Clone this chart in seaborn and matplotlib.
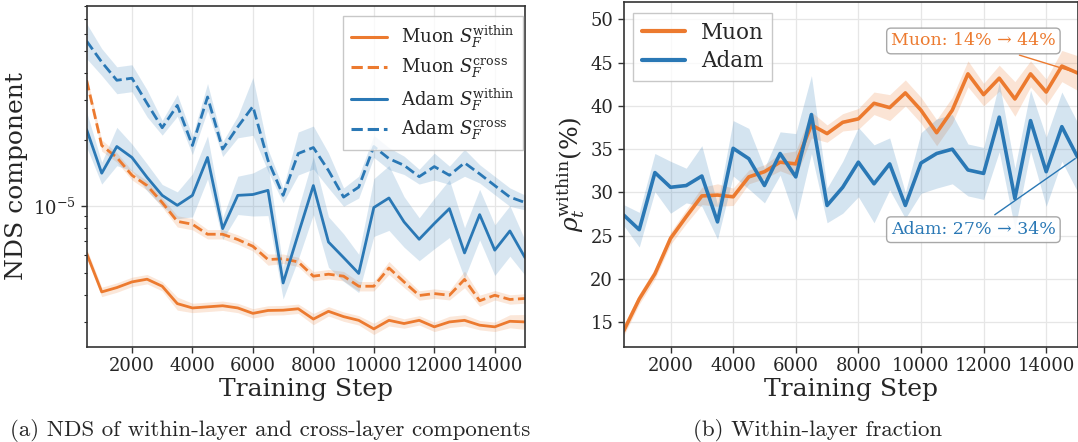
import numpy as np
import pandas as pd
import matplotlib
matplotlib.use("Agg")
import matplotlib.pyplot as plt
from matplotlib.ticker import NullFormatter
import seaborn as sns

# ---------------- data ----------------
steps = list(range(500, 15001, 500))

muon_within = [6.14e-6, 4.11e-6, 4.30e-6, 4.56e-6, 4.69e-6, 4.36e-6, 3.64e-6, 3.48e-6, 3.52e-6, 3.56e-6,
               3.48e-6, 3.29e-6, 3.39e-6, 3.40e-6, 3.45e-6, 3.10e-6, 3.36e-6, 3.18e-6, 3.06e-6, 2.80e-6,
               3.06e-6, 2.96e-6, 3.06e-6, 2.86e-6, 3.01e-6, 3.06e-6, 2.91e-6, 2.86e-6, 3.03e-6, 3.01e-6]
muon_cross = [3.70e-5, 1.88e-5, 1.66e-5, 1.38e-5, 1.24e-5, 1.04e-5, 8.55e-6, 8.30e-6, 7.48e-6, 7.48e-6,
              7.08e-6, 6.60e-6, 5.75e-6, 5.80e-6, 5.61e-6, 4.84e-6, 4.94e-6, 4.84e-6, 4.36e-6, 4.36e-6,
              5.27e-6, 4.56e-6, 3.96e-6, 4.04e-6, 3.97e-6, 4.68e-6, 3.75e-6, 3.97e-6, 3.80e-6, 3.84e-6]
adam_within = [2.22e-5, 1.41e-5, 1.86e-5, 1.66e-5, 1.35e-5, 1.12e-5, 1.01e-5, 1.12e-5, 1.66e-5, 7.93e-6,
               1.12e-5, 1.13e-5, 1.18e-5, 4.51e-6, 7.50e-6, 1.24e-5, 6.90e-6, 5.87e-6, 4.98e-6, 9.87e-6,
               1.09e-5, 8.50e-6, 7.10e-6, 8.36e-6, 9.76e-6, 6.16e-6, 9.17e-6, 6.34e-6, 7.74e-6, 5.87e-6]
adam_cross = [5.56e-5, 4.47e-5, 3.70e-5, 3.78e-5, 2.91e-5, 2.26e-5, 2.85e-5, 1.88e-5, 3.11e-5, 1.81e-5,
              2.28e-5, 2.82e-5, 1.61e-5, 1.12e-5, 1.73e-5, 1.84e-5, 1.45e-5, 1.10e-5, 1.22e-5, 1.86e-5,
              1.64e-5, 1.53e-5, 1.36e-5, 1.51e-5, 1.38e-5, 1.57e-5, 1.40e-5, 1.24e-5, 1.10e-5, 1.04e-5]

# relative band half-widths (factor) for panel (a)
muon_within_err = [0.05, 0.05, 0.05, 0.05, 0.05, 0.05, 0.07, 0.05, 0.05, 0.05,
                   0.05, 0.05, 0.05, 0.05, 0.05, 0.06, 0.05, 0.05, 0.05, 0.06,
                   0.06, 0.05, 0.05, 0.05, 0.06, 0.06, 0.05, 0.05, 0.07, 0.08]
muon_cross_err = [0.05, 0.06, 0.05, 0.05, 0.05, 0.05, 0.06, 0.06, 0.05, 0.05,
                  0.05, 0.05, 0.06, 0.05, 0.05, 0.05, 0.05, 0.05, 0.05, 0.05,
                  0.07, 0.06, 0.05, 0.05, 0.05, 0.09, 0.06, 0.05, 0.05, 0.05]
adam_within_err = [0.20, 0.12, 0.22, 0.15, 0.15, 0.12, 0.15, 0.25, 0.25, 0.12,
                   0.22, 0.25, 0.30, 0.18, 0.30, 0.35, 0.30, 0.28, 0.22, 0.35,
                   0.40, 0.30, 0.25, 0.30, 0.35, 0.30, 0.30, 0.30, 0.30, 0.20]
adam_cross_err = [0.20, 0.15, 0.15, 0.15, 0.15, 0.08, 0.12, 0.10, 0.15, 0.08,
                  0.12, 0.35, 0.12, 0.08, 0.25, 0.25, 0.20, 0.10, 0.12, 0.12,
                  0.12, 0.10, 0.08, 0.15, 0.10, 0.15, 0.10, 0.10, 0.10, 0.08]

# panel (b): within-layer fraction (%)
muon_frac = [14.0, 17.7, 20.6, 24.7, 27.2, 29.6, 29.7, 29.5, 31.8, 32.4,
             33.5, 33.3, 37.8, 36.8, 38.1, 38.5, 40.3, 39.8, 41.5, 39.5,
             36.9, 39.5, 43.7, 41.3, 43.2, 40.8, 43.7, 41.6, 44.6, 43.8]
adam_frac = [27.4, 25.7, 32.3, 30.6, 30.8, 31.9, 26.6, 35.1, 33.9, 30.8,
             34.5, 31.8, 39.0, 28.5, 30.6, 33.5, 31.0, 33.3, 28.5, 33.4,
             34.5, 35.0, 32.6, 32.2, 38.7, 29.3, 38.3, 32.4, 37.6, 34.1]
muon_frac_err = [0.6, 0.6, 0.6, 0.7, 0.8, 1.0, 1.3, 1.0, 0.8, 0.8,
                 1.0, 1.5, 1.5, 1.0, 1.0, 1.2, 1.3, 1.5, 1.5, 1.5,
                 1.5, 1.5, 1.5, 1.3, 1.5, 2.0, 1.5, 1.5, 1.8, 2.0]
adam_frac_err = [1.2, 2.0, 2.2, 3.0, 2.0, 3.5, 2.0, 3.2, 3.5, 2.0,
                 2.5, 5.0, 4.5, 2.0, 3.0, 4.0, 4.5, 3.0, 1.5, 3.5,
                 4.0, 4.0, 3.0, 3.0, 4.0, 3.5, 3.5, 4.0, 4.0, 4.0]

ORANGE = "#ec7a2f"
BLUE = "#2a78b5"

# ---------------- style ----------------
sns.set_theme(style="ticks", rc={"axes.grid": True, "grid.color": "#e6e6e6", "grid.linewidth": 0.9,
                                 "axes.edgecolor": "#333333", "axes.linewidth": 1.2})
plt.rcParams["font.family"] = ["DejaVu Serif"]
plt.rcParams["mathtext.fontset"] = "dejavuserif"

fig = plt.figure(figsize=(10.78, 4.42), dpi=100)
W, H = 1078, 442
ax1 = fig.add_axes([86.6 / W, 95 / H, (525 - 86.6) / W, (347 - 6) / H])
ax2 = fig.add_axes([623.6 / W, 95 / H, (1077.5 - 623.6) / W, (347 - 2) / H])

# ---------------- panel (a) ----------------
order = ["Muon $S_F^{\\mathrm{within}}$", "Muon $S_F^{\\mathrm{cross}}$",
         "Adam $S_F^{\\mathrm{within}}$", "Adam $S_F^{\\mathrm{cross}}$"]
dfa = pd.DataFrame({
    "step": steps * 4,
    "value": muon_within + muon_cross + adam_within + adam_cross,
    "series": [order[0]] * 30 + [order[1]] * 30 + [order[2]] * 30 + [order[3]] * 30,
})
pal = {order[0]: ORANGE, order[1]: ORANGE, order[2]: BLUE, order[3]: BLUE}
dashes = {order[0]: "", order[1]: (3.7, 1.6), order[2]: "", order[3]: (3.7, 1.6)}
sns.lineplot(data=dfa, x="step", y="value", hue="series", style="series", hue_order=order,
             style_order=order, palette=pal, dashes=dashes, linewidth=2.0, ax=ax1)
for vals, errs, col in [(muon_within, muon_within_err, ORANGE), (muon_cross, muon_cross_err, ORANGE),
                        (adam_within, adam_within_err, BLUE), (adam_cross, adam_cross_err, BLUE)]:
    v = np.array(vals); e = np.array(errs)
    ax1.fill_between(steps, v / (1 + e), v * (1 + e), color=col, alpha=0.18, linewidth=0)

ax1.set_yscale("log")
ax1.set_xlim(500, 15000)
ax1.set_ylim(2.32e-6, 8.0e-5)
ax1.yaxis.set_minor_formatter(NullFormatter())
ax1.set_xticks([2000, 4000, 6000, 8000, 10000, 12000, 14000])
ax1.tick_params(axis="both", labelsize=13, direction="out", length=4, width=1, color="#333333")
ax1.tick_params(axis="y", which="minor", length=2.5, width=0.8, left=True)
ax1.set_xlabel("Training Step", fontsize=18, labelpad=2)
ax1.set_ylabel("NDS component", fontsize=18, labelpad=4)
ax1.grid(True, which="major")
ax1.grid(False, which="minor")
leg1 = ax1.legend(loc="upper right", fontsize=13, frameon=True, fancybox=False,
                  handlelength=2.0, handletextpad=0.8, borderpad=0.45, labelspacing=0.36,
                  edgecolor="#bbbbbb", bbox_to_anchor=(0.9954, 0.9707), borderaxespad=0)
leg1.get_frame().set_linewidth(1.0)
for h in leg1.get_lines():
    h.set_linewidth(2.2)

# ---------------- panel (b) ----------------
dfb = pd.DataFrame({
    "step": steps * 2,
    "frac": muon_frac + adam_frac,
    "opt": ["Muon"] * 30 + ["Adam"] * 30,
})
sns.lineplot(data=dfb, x="step", y="frac", hue="opt", hue_order=["Muon", "Adam"],
             palette={"Muon": ORANGE, "Adam": BLUE}, linewidth=2.6, ax=ax2)
for vals, errs, col in [(muon_frac, muon_frac_err, ORANGE), (adam_frac, adam_frac_err, BLUE)]:
    v = np.array(vals); e = np.array(errs)
    ax2.fill_between(steps, v - e, v + e, color=col, alpha=0.2, linewidth=0)

ax2.set_xlim(500, 15000)
ax2.set_ylim(12.15, 52.0)
ax2.set_xticks([2000, 4000, 6000, 8000, 10000, 12000, 14000])
ax2.set_yticks([15, 20, 25, 30, 35, 40, 45, 50])
ax2.tick_params(axis="both", labelsize=13, direction="out", length=4, width=1, color="#333333")
ax2.set_xlabel("Training Step", fontsize=18, labelpad=2)
ax2.set_ylabel("$\\rho_t^{\\mathrm{within}}(\\%)$", fontsize=18, labelpad=2)
leg2 = ax2.legend(loc="upper left", fontsize=15.5, frameon=True, fancybox=False,
                  handlelength=2.0, handletextpad=0.75, borderpad=0.4, labelspacing=0.3,
                  edgecolor="#bbbbbb", bbox_to_anchor=(0.0207, 0.968), borderaxespad=0)
leg2.get_frame().set_linewidth(1.0)
for h in leg2.get_lines():
    h.set_linewidth(3)

ax2.annotate("Muon: 14% → 44%", xy=(steps[-1], muon_frac[-1]), xytext=(11674, 47.5),
             ha="center", va="center", color=ORANGE, fontsize=12.5,
             bbox=dict(boxstyle="round,pad=0.25", fc="white", ec="#999999", alpha=0.85),
             arrowprops=dict(arrowstyle="-", color=ORANGE, lw=1.0), annotation_clip=False)
ax2.annotate("Adam: 27% → 34%", xy=(steps[-1], adam_frac[-1]), xytext=(11674, 25.7),
             ha="center", va="center", color=BLUE, fontsize=12.5,
             bbox=dict(boxstyle="round,pad=0.25", fc="white", ec="#999999", alpha=0.85),
             arrowprops=dict(arrowstyle="-", color=BLUE, lw=1.0), annotation_clip=False)

# ---------------- captions ----------------
fig.text(270 / W, 1 - 431 / H, "(a) NDS of within-layer and cross-layer components",
         ha="center", va="center", fontsize=16.5, family="cmr10")
fig.text(818 / W, 1 - 431 / H, "(b) Within-layer fraction",
         ha="center", va="center", fontsize=16.5, family="cmr10")

fig.savefig("out.png", dpi=100)
